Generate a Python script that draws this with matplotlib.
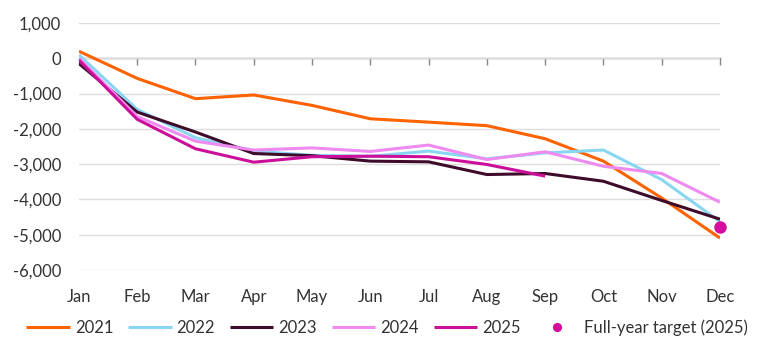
import numpy as np
import matplotlib
matplotlib.use("Agg")
import matplotlib.pyplot as plt

months = ['Jan', 'Feb', 'Mar', 'Apr', 'May', 'Jun', 'Jul', 'Aug', 'Sep', 'Oct', 'Nov', 'Dec']

y2021 = [200, -570, -1145, -1040, -1335, -1715, -1810, -1910, -2280, -2915, -3960, -5095]
y2022 = [100, -1450, -2250, -2630, -2750, -2780, -2630, -2850, -2680, -2600, -3440, -4630]
y2023 = [-150, -1525, -2090, -2700, -2760, -2915, -2935, -3295, -3265, -3485, -4030, -4560]
y2024 = [0, -1650, -2350, -2600, -2540, -2640, -2460, -2870, -2650, -3060, -3265, -4080]
y2025 = [-50, -1730, -2565, -2945, -2790, -2775, -2790, -3010, -3340]
target_2025 = -4780

series = [
    ('2021', y2021, '#FF6200'),
    ('2022', y2022, '#89D6F2'),
    ('2023', y2023, '#3F0B2B'),
    ('2024', y2024, '#EE8AF0'),
    ('2025', y2025, '#CC0F9A'),
]

plt.rcParams['font.family'] = ['Lato', 'DejaVu Sans']
text_col = '#333333'

fig = plt.figure(figsize=(7.59, 3.56), dpi=100)
ax = fig.add_axes([0.104, 0.2416, 0.8446, 0.6938])

x = np.arange(len(months))
for name, vals, col in series:
    ax.plot(x[:len(vals)], vals, color=col, lw=2.2, label=name, solid_capstyle='butt')
ax.plot(x[-1], target_2025, 'o', color='#D40E9D', ms=8, ls='none', clip_on=False,
        zorder=5, label='Full-year target (2025)')

ax.set_xlim(0, 11)
ax.set_ylim(-6000, 1000)
ax.set_yticks(np.arange(-6000, 1001, 1000))
ax.set_yticklabels([f'{v:,}' for v in range(-6000, 1001, 1000)])
ax.yaxis.grid(True, color='#DDDDDD', lw=1)
ax.set_axisbelow(True)
for s in ax.spines.values():
    s.set_visible(False)
ax.tick_params(axis='y', length=0, pad=13, labelsize=12, labelcolor=text_col)
ax.set_xticks(x)
ax.set_xticklabels(months)
ax.tick_params(axis='x', length=0, pad=14, labelsize=12, labelcolor=text_col)

# zero line with ticks
sec = ax.secondary_xaxis(0, transform=ax.transData)
sec.set_xticks(x)
sec.set_xticklabels([])
sec.tick_params(axis='x', direction='out', length=5, color='#888888', width=1)
sec.spines['bottom'].set_color('#888888')
sec.spines['bottom'].set_linewidth(1)

leg = fig.legend(loc='center', bbox_to_anchor=(0.51, 0.08), ncol=6, frameon=False,
                 fontsize=12, handlelength=2.6, handletextpad=0.3, columnspacing=0.9,
                 markerscale=0.7)
for t in leg.get_texts():
    t.set_color(text_col)

fig.savefig('out.png', dpi=100)
